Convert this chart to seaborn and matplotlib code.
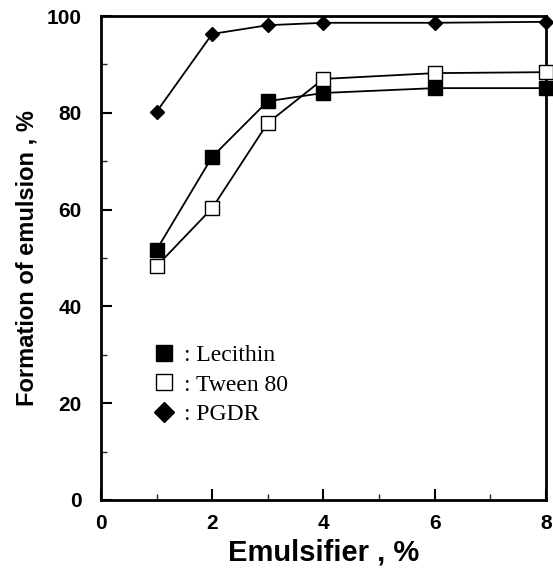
import numpy as np
import pandas as pd
import seaborn as sns
import matplotlib.pyplot as plt
from matplotlib.lines import Line2D

# emulsifier concentration, %
emulsifier = [1, 2, 3, 4, 6, 8]
lecithin = [51.7, 70.9, 82.4, 84.1, 85.1, 85.1]
tween80 = [48.3, 60.3, 77.9, 87.0, 88.2, 88.4]
pgdr = [80.2, 96.3, 98.1, 98.6, 98.6, 98.8]

series_names = ["Lecithin", "Tween 80", "PGDR"]
markers = ["s", "s", "D"]
face_colors = ["black", "white", "black"]

sns.set_theme(style="ticks")
plt.rcParams["font.family"] = ["Liberation Sans", "DejaVu Sans"]
plt.rcParams["text.color"] = "black"
plt.rcParams["axes.labelcolor"] = "black"

fig = plt.figure(figsize=(5.53, 5.72), dpi=100)
ax = fig.add_axes([0.1826, 0.1259, 0.8044, 0.8461])

for name, vals, m, fc in zip(series_names, [lecithin, tween80, pgdr], markers, face_colors):
    df = pd.DataFrame({"x": emulsifier, "y": vals})
    sns.lineplot(data=df, x="x", y="y", ax=ax, color="black", linewidth=1.3,
                 marker=m, markersize=9.5 if m == "s" else 7, markerfacecolor=fc,
                 markeredgecolor="black", markeredgewidth=1.0, clip_on=False, zorder=3)

ax.set_xlim(0, 8)
ax.set_ylim(0, 100)
ax.set_xticks([0, 2, 4, 6, 8])
ax.set_xticks([1, 3, 5, 7], minor=True)
ax.set_yticks([0, 20, 40, 60, 80, 100])
ax.set_yticks([10, 30, 50, 70, 90], minor=True)
ax.tick_params(axis="both", which="major", direction="in", length=8, width=1.5,
               labelsize=15, colors="black")
ax.tick_params(axis="y", which="major", pad=14)
ax.tick_params(axis="x", which="major", pad=10)
ax.tick_params(axis="both", which="minor", direction="in", length=4, width=1)
for lab in ax.get_xticklabels() + ax.get_yticklabels():
    lab.set_fontweight("bold")
for sp in ax.spines.values():
    sp.set_linewidth(2)
    sp.set_color("black")

ax.set_xlabel("Emulsifier , %", fontsize=21, fontweight="bold", labelpad=4)
ax.set_ylabel("Formation of emulsion , %", fontsize=17, fontweight="bold", labelpad=6)

handles = [Line2D([], [], linestyle="none", marker=m, markersize=12 if m == "s" else 10,
                  markerfacecolor=fc, markeredgecolor="black", markeredgewidth=1.0)
           for m, fc in zip(markers, face_colors)]
leg = ax.legend(handles, [": " + n for n in series_names], loc="lower left",
                bbox_to_anchor=(0.069, 0.11), frameon=False, handlelength=0.9,
                handletextpad=0.4, labelspacing=0.35,
                prop={"family": "Liberation Serif", "size": 17})

fig.savefig("out.png", dpi=100)
